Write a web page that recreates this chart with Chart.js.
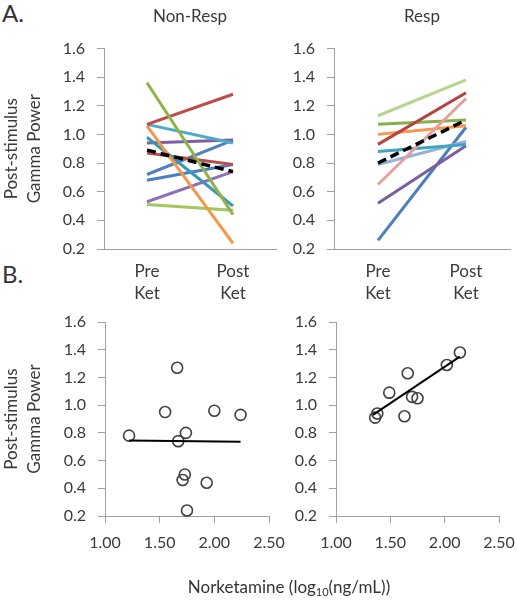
<!DOCTYPE html>
<html>
<head>
<meta charset="utf-8">
<script src="https://cdn.jsdelivr.net/npm/chart.js@4/dist/chart.umd.min.js"></script>
<style>
  body { margin: 0; background: #fff; font-family: Lato, 'Open Sans', sans-serif; color: #333; }
  #figure { position: relative; width: 517px; height: 600px; overflow: hidden; }
  canvas { position: absolute; }
  .panel-tag { position: absolute; font-size: 24px; line-height: 26px; }
  .x-title { position: absolute; left: 0; width: 578px; top: 576px; text-align: center; font-size: 17px; line-height: 22px; }
  .x-title sub { font-size: 11px; vertical-align: -3px; line-height: 0; }
</style>
</head>
<body>
<div id="figure">
  <div class="panel-tag" style="left: 2px; top: 0px;">A.</div>
  <div class="panel-tag" style="left: 2px; top: 261px;">B.</div>
  <canvas id="norket-nonresp" width="290" height="300" style="left: 0; top: 300px;"></canvas>
  <canvas id="norket-resp" width="227" height="300" style="left: 290px; top: 300px;"></canvas>
  <canvas id="pre-post-nonresp" width="290" height="320" style="left: 0; top: 0;"></canvas>
  <canvas id="pre-post-resp" width="227" height="320" style="left: 290px; top: 0;"></canvas>
  <div class="x-title">Norketamine (log<sub>10</sub>(ng/mL))</div>
</div>
<script>
const phaseLabels = [['Pre', 'Ket'], ['Post', 'Ket']]

// per-subject gamma power, pre vs post ketamine
const nonRespPre = [1.36, 1.07, 1.07, 1.06, 0.98, 0.94, 0.87, 0.72, 0.68, 0.53, 0.51]
const nonRespPost = [0.44, 1.28, 0.94, 0.24, 0.50, 0.96, 0.79, 0.96, 0.79, 0.74, 0.47]
const nonRespMean = [0.89, 0.74]

const respPre = [1.13, 0.93, 0.65, 1.07, 1.00, 0.88, 0.79, 0.52, 0.26]
const respPost = [1.38, 1.29, 1.25, 1.10, 1.06, 0.93, 0.95, 0.92, 1.05]
const respMean = [0.80, 1.10]

// norketamine level vs post-ketamine gamma power
const nonRespNorket = [1.22, 1.55, 1.66, 1.67, 1.74, 1.73, 1.71, 1.75, 1.93, 2.00, 2.24]
const nonRespGamma = [0.78, 0.95, 1.27, 0.74, 0.80, 0.50, 0.46, 0.24, 0.44, 0.96, 0.93]
const nonRespFitX = [1.22, 2.24]
const nonRespFitY = [0.745, 0.735]

const respNorket = [1.36, 1.38, 1.49, 1.63, 1.66, 1.70, 1.75, 2.02, 2.14]
const respGamma = [0.91, 0.94, 1.09, 0.92, 1.23, 1.06, 1.05, 1.29, 1.38]
const respFitX = [1.34, 2.14]
const respFitY = [0.93, 1.35]

const norketTicks = [1.0, 1.5, 2.0, 2.5]

const NON_RESP_COLORS = [
  '#8fb24b', '#bf4b48', '#4bacc6', '#f79646', '#3c97b6', '#7d5fa0',
  '#b9504c', '#4f81bd', '#4a7fc0', '#8f6fb8', '#a2c75c',
]
const RESP_COLORS = [
  '#b6d58f', '#b8423f', '#e6a09c', '#86b049', '#f79646', '#3fa4bf',
  '#95b3d7', '#7a5ea0', '#4a7ebf',
]

const AXIS = '#a0a0a0'
const TEXT = '#3a3a3a'

Chart.defaults.font.family = "Lato, 'Open Sans', sans-serif"
Chart.defaults.color = TEXT
Chart.defaults.animation = false

const noPadding = (s) => {
  s.paddingLeft = 0
  s.paddingRight = 0
  s.paddingTop = 0
  s.paddingBottom = 0
}

const gammaAxis = (width, withTitle) => ({
  min: 0.2,
  max: 1.6,
  border: { color: AXIS, width: 1 },
  grid: { drawOnChartArea: false, tickLength: 7, color: AXIS },
  ticks: { stepSize: 0.2, padding: 12, font: { size: 16 }, callback: (v) => v.toFixed(1) },
  title: {
    display: withTitle,
    text: ['Post-stimulus', 'Gamma Power'],
    font: { size: 17, lineHeight: 1.35 },
    padding: 0,
  },
  afterFit: (s) => {
    s.width = width
    noPadding(s)
  },
})

const makePrePost = (id, title, pre, post, mean, colors, yWidth, padRight, withTitle) => {
  const datasets = pre.map((v, i) => ({
    data: [v, post[i]],
    borderColor: colors[i],
    borderWidth: 3,
  }))
  datasets.unshift({ data: mean, borderColor: '#000', borderWidth: 3.5, borderDash: [9, 5] })

  new Chart(document.getElementById(id), {
    type: 'line',
    data: { labels: phaseLabels, datasets },
    options: {
      responsive: false,
      layout: { padding: { top: 0, right: padRight, left: 0, bottom: 0 } },
      elements: { point: { radius: 0 }, line: { tension: 0 } },
      plugins: {
        legend: { display: false },
        tooltip: { enabled: false },
        title: {
          display: true,
          text: title,
          fullSize: false,
          color: TEXT,
          font: { size: 17, weight: 'normal', lineHeight: 1.2 },
          padding: { top: 6, bottom: 22 },
        },
      },
      scales: {
        x: {
          type: 'category',
          offset: true,
          border: { color: AXIS, width: 1 },
          grid: { display: false },
          ticks: { padding: 3, font: { size: 17, lineHeight: 1.3 } },
          afterFit: (s) => {
            s.height = 71
            noPadding(s)
          },
        },
        y: gammaAxis(yWidth, withTitle),
      },
    },
  })
}

const makeScatter = (id, xs, ys, fitX, fitY, yWidth, padRight, withTitle) => {
  new Chart(document.getElementById(id), {
    type: 'scatter',
    data: {
      datasets: [
        {
          data: fitX.map((x, i) => ({ x, y: fitY[i] })),
          showLine: true,
          borderColor: '#000',
          borderWidth: 2,
          pointRadius: 0,
        },
        {
          data: xs.map((x, i) => ({ x, y: ys[i] })),
          pointRadius: 5.5,
          pointBorderWidth: 1.6,
          pointBorderColor: '#404040',
          pointBackgroundColor: 'rgba(0,0,0,0)',
          clip: false,
        },
      ],
    },
    options: {
      responsive: false,
      layout: { padding: { top: 22, right: padRight, left: 0, bottom: 0 } },
      plugins: { legend: { display: false }, tooltip: { enabled: false } },
      scales: {
        x: {
          type: 'linear',
          min: 1,
          max: 2.5,
          afterBuildTicks: (s) => {
            s.ticks = norketTicks.map((value) => ({ value }))
          },
          border: { color: AXIS, width: 1 },
          grid: { drawOnChartArea: false, tickLength: 7, color: AXIS },
          ticks: { padding: 10, font: { size: 16 }, callback: (v) => v.toFixed(2) },
          afterFit: (s) => {
            s.height = 84
            noPadding(s)
          },
        },
        y: gammaAxis(yWidth, withTitle),
      },
    },
  })
}

makePrePost('pre-post-nonresp', 'Non-Resp', nonRespPre, nonRespPost, nonRespMean, NON_RESP_COLORS, 104, 14, true)
makePrePost('pre-post-resp', 'Resp', respPre, respPost, respMean, RESP_COLORS, 44, 7, false)
makeScatter('norket-nonresp', nonRespNorket, nonRespGamma, nonRespFitX, nonRespFitY, 105, 21, true)
makeScatter('norket-resp', respNorket, respGamma, respFitX, respFitY, 46, 18, false)
</script>
</body>
</html>
